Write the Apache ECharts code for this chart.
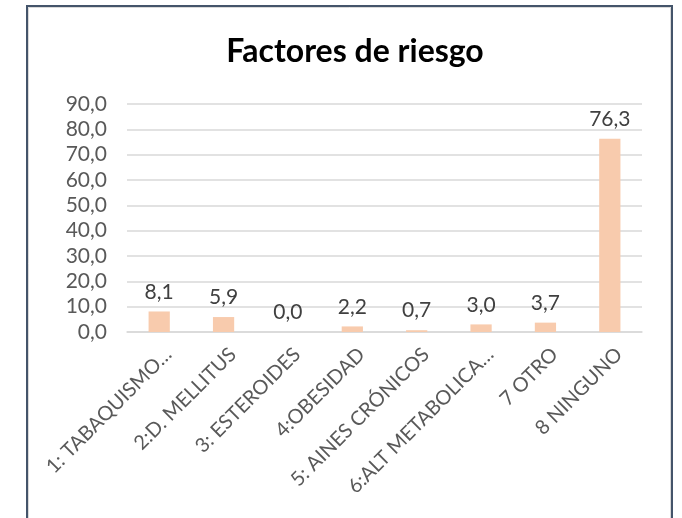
<!DOCTYPE html>
<html>
<head>
<meta charset="utf-8">
<script src="https://cdn.jsdelivr.net/npm/echarts@6/dist/echarts.min.js"></script>
<style>
  html, body { margin: 0; padding: 0; background: #ffffff; }
  #chart { width: 682px; height: 518px; }
</style>
</head>
<body>
<div id="chart"></div>
<script>
// Risk factors (percent of patients)
const categories = [
  '1: TABAQUISMO…',
  '2:D. MELLITUS',
  '3: ESTEROIDES',
  '4:OBESIDAD',
  '5: AINES CRÓNICOS',
  '6:ALT METABOLICA…',
  '7 OTRO',
  '8 NINGUNO'
];
const values = [8.1, 5.9, 0.0, 2.2, 0.7, 3.0, 3.7, 76.3];
const yTicks = { min: 0, max: 90, interval: 10 };

const fontFamily = 'Lato, "Open Sans", sans-serif';
const fmt = v => Number(v).toFixed(1).replace('.', ',');

const chart = echarts.init(document.getElementById('chart'), null, { renderer: 'canvas' });
chart.setOption({
  backgroundColor: '#ffffff',
  animation: false,
  graphic: [
    // outer frame of the chart area
    {
      type: 'rect',
      shape: { x: 28.5, y: 7.5, width: 642, height: 560 },
      style: { fill: 'none', stroke: '#d9d9d9', lineWidth: 1 },
      z: 1
    },
    {
      type: 'rect',
      shape: { x: 27, y: 6, width: 645, height: 560 },
      style: { fill: 'none', stroke: '#44546a', lineWidth: 2 },
      z: 2
    }
  ],
  title: {
    text: 'Factores de riesgo',
    left: 350,
    textAlign: 'center',
    top: 31,
    textStyle: { fontFamily, fontSize: 32, fontWeight: 'bold', color: '#000000' }
  },
  grid: { left: 127, right: 40, top: 104, bottom: 186, containLabel: false },
  xAxis: {
    type: 'category',
    data: categories,
    axisTick: { show: false },
    axisLine: { lineStyle: { color: '#d9d9d9', width: 1.5 } },
    axisLabel: {
      interval: 0,
      rotate: 45,
      margin: 10,
      align: 'right',
      verticalAlign: 'top',
      lineHeight: 26,
      color: '#595959',
      fontFamily,
      fontSize: 20
    }
  },
  yAxis: {
    type: 'value',
    min: yTicks.min,
    max: yTicks.max,
    interval: yTicks.interval,
    axisLine: { show: false },
    axisTick: { show: false },
    splitLine: { lineStyle: { color: '#d9d9d9', width: 1.5 } },
    axisLabel: {
      margin: 20,
      color: '#595959',
      fontFamily,
      fontSize: 21,
      formatter: v => fmt(v)
    }
  },
  series: [{
    type: 'bar',
    data: values,
    barWidth: '33%',
    itemStyle: { color: '#f8cbad' },
    label: {
      show: true,
      position: 'top',
      distance: 9,
      color: '#404040',
      fontFamily,
      fontSize: 21,
      formatter: p => fmt(p.value)
    }
  }]
});
</script>
</body>
</html>
